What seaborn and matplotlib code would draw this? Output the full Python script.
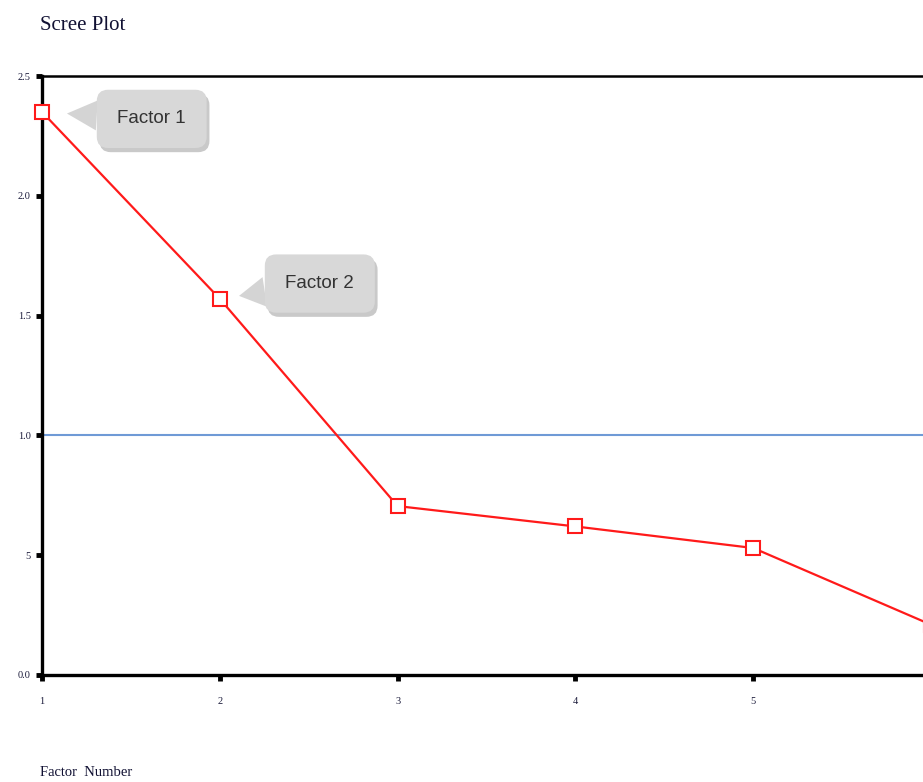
import matplotlib
matplotlib.use("Agg")
import matplotlib.pyplot as plt
import matplotlib.patheffects as pe
import seaborn as sns
import pandas as pd

# Data
factor_number = [1, 2, 3, 4, 5, 6]
eigenvalues = [2.35, 1.57, 0.705, 0.62, 0.53, 0.21]
y_ticks = [0.0, 0.5, 1.0, 1.5, 2.0, 2.5]
y_tick_labels = ["0.0", "5", "1.0", "1.5", "2.0", "2.5"]
x_tick_labels = ["1", "2", "3", "4", "5", "6"]
cutoff = 1.0
callouts = ["Factor 1", "Factor 2"]

sns.set_style("white")
plt.rcParams["font.family"] = ["Liberation Serif", "DejaVu Serif"]

df = pd.DataFrame({"factor": factor_number, "eigen": eigenvalues})

fig = plt.figure(figsize=(9.23, 7.82), dpi=100)
# axes run off the right edge like the original screenshot
ax = fig.add_axes([42 / 923, 107 / 782, 924.6 / 923, 599 / 782])

ax.axhline(cutoff, color="#6f9ad6", lw=1.5, zorder=1)
sns.lineplot(data=df, x="factor", y="eigen", ax=ax, color="#ff1a1a", lw=1.6,
             marker="s", markersize=10, markerfacecolor="white",
             markeredgecolor="#ff1a1a", markeredgewidth=1.5, zorder=3,
             clip_on=False)

ax.set_xlim(1, 6.2)
ax.set_ylim(0, 2.5)
ax.set_xticks(factor_number)
ax.set_xticklabels(x_tick_labels, fontsize=7.5, color="#1a1a3a")
ax.set_yticks(y_ticks)
ax.set_yticklabels(y_tick_labels, fontsize=7.5, color="#1a1a3a")
ax.tick_params(axis="both", direction="out", length=4, width=3.5, color="black",
               left=True, bottom=True)
ax.tick_params(axis="y", pad=4)
ax.tick_params(axis="x", pad=12)
ax.set_xlabel("")
ax.set_ylabel("")

for side in ["left", "bottom"]:
    ax.spines[side].set_linewidth(2.4)
    ax.spines[side].set_color("black")
ax.spines["top"].set_linewidth(1.8)
ax.spines["top"].set_color("black")
ax.spines["right"].set_visible(False)

shadow = [pe.SimplePatchShadow(offset=(2, -3), shadow_rgbFace="#888888", alpha=0.45), pe.Normal()]
offsets = [(79, -5), (72, 11)]
shrinks = [18, 14]
for i, label in enumerate(callouts):
    ann = ax.annotate(label, xy=(factor_number[i], eigenvalues[i]),
                      xytext=offsets[i], textcoords="offset points",
                      ha="center", va="center", fontsize=13.5,
                      family=["Liberation Sans", "DejaVu Sans"], color="#333333",
                      bbox=dict(boxstyle="round,pad=1.1,rounding_size=0.6",
                                fc="#d8d8d8", ec="none"),
                      arrowprops=dict(arrowstyle="wedge,tail_width=1.6,shrink_factor=0.5",
                                      fc="#d4d4d4", ec="none",
                                      shrinkA=0, shrinkB=shrinks[i]),
                      zorder=5)
    ann.get_bbox_patch().set_path_effects(shadow)
    ann.arrow_patch.set_path_effects([pe.Normal()])

fig.text(40 / 923, 1 - 25 / 782, "Scree Plot", fontsize=15, ha="left", va="center",
         color="#111133")
fig.text(40 / 923, 1 - 773 / 782, "Factor  Number", fontsize=10.5, ha="left",
         va="center", color="#111133")

fig.savefig("out.png", dpi=100)
